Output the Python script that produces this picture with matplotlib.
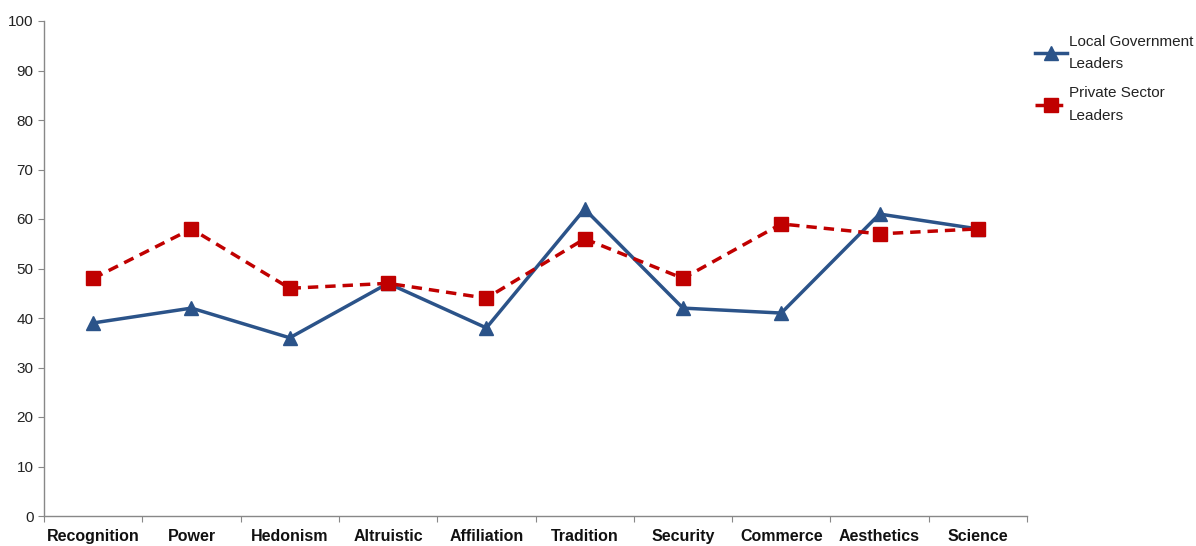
import numpy as np
import matplotlib.pyplot as plt

plt.rcParams['font.family'] = ['Liberation Sans', 'DejaVu Sans']

categories = ["Recognition", "Power", "Hedonism", "Altruistic", "Affiliation",
              "Tradition", "Security", "Commerce", "Aesthetics", "Science"]
local_gov = [39, 42, 36, 47, 38, 62, 42, 41, 61, 58]
private_sector = [48, 58, 46, 47, 44, 56, 48, 59, 57, 58]

fig = plt.figure(figsize=(11.96, 5.46), dpi=100)
ax = fig.add_axes([44 / 1196, 30 / 546, (1027 - 44) / 1196, (516 - 21) / 546])

x = np.arange(len(categories))
ax.plot(x, local_gov, color='#2B5389', lw=2.5, marker='^', ms=10,
        label='Local Government\nLeaders')
ax.plot(x, private_sector, color='#C00000', lw=2.5, ls=(0, (3, 2)), marker='s', ms=10,
        label='Private Sector\nLeaders')

ax.set_xlim(-0.5, len(categories) - 0.5)
ax.set_ylim(0, 100)
ax.set_yticks(range(0, 101, 10))

# tick marks sit between categories, labels sit at the centres
ax.set_xticks(np.arange(-0.5, len(categories), 1.0))
ax.set_xticklabels([])
ax.set_xticks(x, minor=True)
ax.set_xticklabels(categories, minor=True, fontsize=11.5, fontweight='bold', color='#111111')
for lbl in ax.get_xticklabels(minor=True):
    lbl.set_va('baseline')
ax.tick_params(axis='x', which='minor', length=0, pad=18)
ax.tick_params(axis='x', which='major', length=4, color='#888888', direction='out')
ax.tick_params(axis='y', length=4, color='#888888', labelsize=11, labelcolor='#222222')

for s in ['top', 'right']:
    ax.spines[s].set_visible(False)
for s in ['left', 'bottom']:
    ax.spines[s].set_color('#888888')
    ax.spines[s].set_linewidth(1)

leg = fig.legend(loc='upper left', bbox_to_anchor=(1021 / 1196, 1 - 21 / 546), frameon=False,
                 fontsize=11, handlelength=2.1, handletextpad=0.15, labelspacing=1.0,
                 labelcolor='#222222')
for t in leg.get_texts():
    t.set_linespacing(1.75)

fig.savefig('out.png', dpi=100)
